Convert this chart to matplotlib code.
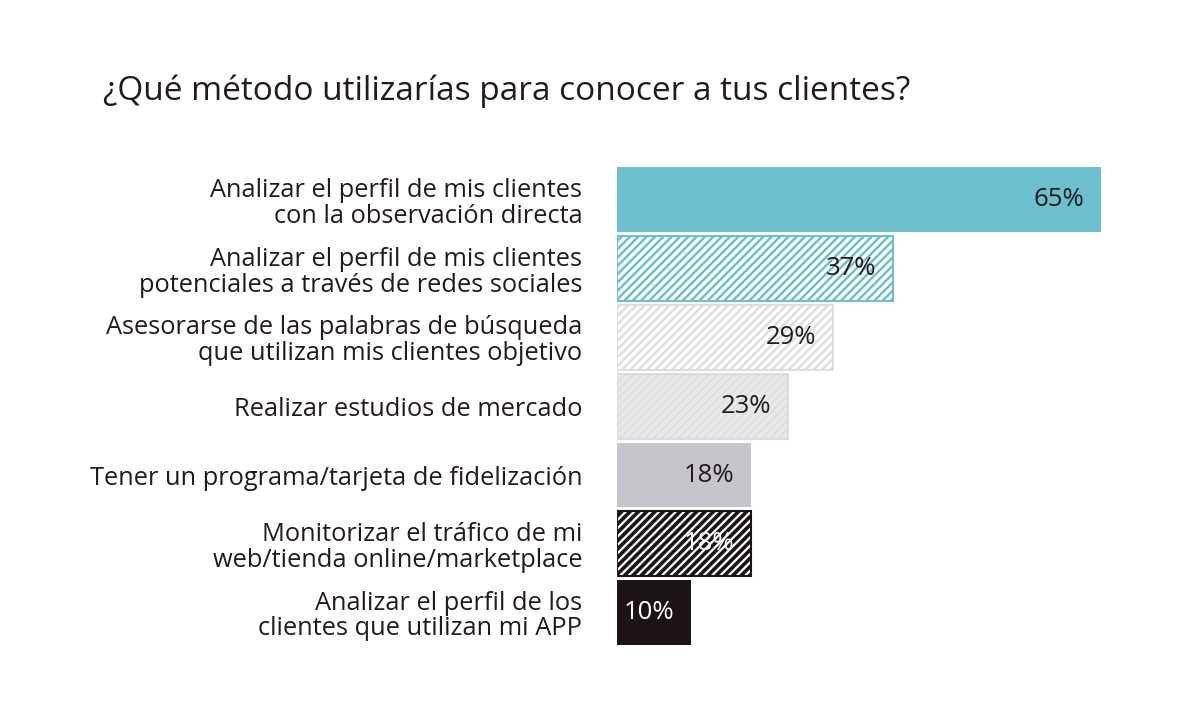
import matplotlib
matplotlib.use("Agg")
import matplotlib.pyplot as plt

categories = [
    "Analizar el perfil de mis clientes\ncon la observación directa",
    "Analizar el perfil de mis clientes\npotenciales a través de redes sociales",
    "Asesorarse de las palabras de búsqueda\nque utilizan mis clientes objetivo",
    "Realizar estudios de mercado",
    "Tener un programa/tarjeta de fidelización",
    "Monitorizar el tráfico de mi\nweb/tienda online/marketplace",
    "Analizar el perfil de los\nclientes que utilizan mi APP",
]
values = [65, 37, 29, 23, 18, 18, 10]
value_labels = ["65%", "37%", "29%", "23%", "18%", "18%", "10%"]
title = "¿Qué método utilizarías para conocer a tus clientes?"

styles = [
    dict(face="#6cc0cd", edge="#6cc0cd", hatch=None, txt="#231a1a"),
    dict(face="#ffffff", edge="#6cc0cd", hatch="////", txt="#231a1a", hlw=1.8),
    dict(face="#ffffff", edge="#dedee0", hatch="////", txt="#231a1a", hlw=1.8),
    dict(face="#e8e8ea", edge="#dcdcdf", hatch="////", txt="#231a1a", hlw=1.0),
    dict(face="#c6c5cb", edge="#c6c5cb", hatch=None, txt="#231a1a"),
    dict(face="#ffffff", edge="#1c1414", hatch="////", txt="#ffffff", hlw=2.6),
    dict(face="#1c1414", edge="#1c1414", hatch=None, txt="#ffffff"),
]

FONT = "Open Sans"
TXT = "#231a1a"

fig = plt.figure(figsize=(12, 7.07), dpi=100)
ax = fig.add_axes([617 / 1200, 0.085, (1101 - 617) / 1200, 0.6808])

ypos = list(range(len(values)))
for y, v, st in zip(ypos, values, styles):
    with plt.rc_context({"hatch.linewidth": st.get("hlw", 1.0)}):
        ax.barh(y, v, height=0.945, color=st["face"], edgecolor=st["edge"],
                hatch=st["hatch"], linewidth=1.5 if st["hatch"] else 0)

for y, v, lab, st in zip(ypos, values, value_labels, styles):
    ax.annotate(lab, xy=(v, y), xytext=(-12, 0), textcoords="offset points",
                ha="right", va="center", fontsize=18.5, color=st["txt"],
                family=FONT)

ax.set_xlim(0, 65)
ax.set_ylim(len(values) - 0.5, -0.5)
ax.set_yticks(ypos)
ax.set_yticklabels(categories, fontsize=18.3, color=TXT, family=FONT,
                   linespacing=1.05, ha="right", multialignment="right")
ax.tick_params(axis="y", length=0, pad=25)
ax.set_xticks([])
for s in ax.spines.values():
    s.set_visible(False)

fig.text(103 / 1200, 1 - 100 / 707, title, fontsize=24, color=TXT,
         family=FONT, ha="left", va="baseline")

fig.savefig("out.png", dpi=100, facecolor="white")
